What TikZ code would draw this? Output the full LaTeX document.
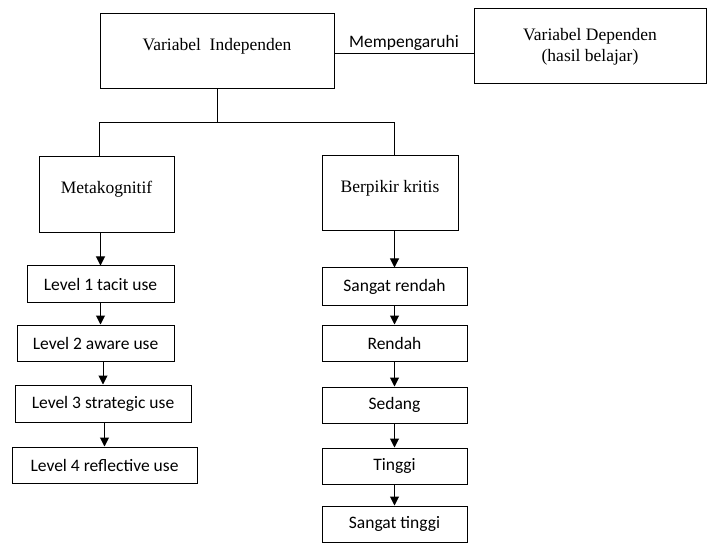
\documentclass[tikz,border=0pt]{standalone}
\usepackage{fontspec}
\setmainfont{Liberation Serif}
\newfontfamily\calibri{Carlito}
\usetikzlibrary{arrows.meta}
\begin{document}
\begin{tikzpicture}[x=1pt,y=-1pt,line width=1pt,
	kotak/.style={draw,inner sep=0pt,font=\fontsize{17.5}{21}\selectfont},
	kotakbesar/.style={kotak,text depth=15pt},
	kecil/.style={kotak,font=\calibri\fontsize{17.5}{21}\selectfont,minimum width=145pt,minimum height=36pt},
	panah/.style={-{Triangle[length=9pt,width=9pt]}}]
	\useasboundingbox (0,0) rectangle (709,545);
	% kotak atas
	\node[kotakbesar,minimum width=234pt,minimum height=75pt] (vi) at (217,51.5) {Variabel\ \ Independen};
	\node[kotak,align=center,minimum width=232pt,minimum height=75pt] (vd) at (590,46.5) {Variabel Dependen\\(hasil belajar)};
	\draw ([yshift=-2.5pt]vi.east) -- ([yshift=-2.5pt]vi.east -| vd.west) node[midway,above,font=\calibri\fontsize{17.5}{21}\selectfont] (pengaruh) {Mempengaruhi};
	% cabang
	\node[kotakbesar,minimum width=135pt,minimum height=76pt] (met) at (106.5,195) {Metakognitif};
	\node[kotakbesar,minimum width=136pt,minimum height=75pt] (bk) at (390,193.5) {Berpikir kritis};
	\coordinate (kiri) at (99,123);
	\coordinate (kanan) at (394,123);
	\draw (vi.south) -- (vi.south |- kiri);
	\draw (met.north -| kiri) -- (kiri) -- (kanan) -- (bk.north -| kanan);
	% level metakognitif
	\node[kecil,minimum width=147pt] (l1) at (100.5,284) {Level 1 tacit use};
	\node[kecil,minimum width=157pt] (l2) at (95.5,343) {Level 2 aware use};
	\node[kecil,minimum width=176pt,minimum height=37pt] (l3) at (103,403.5) {Level 3 strategic use};
	\node[kecil,minimum width=185pt] (l4) at (104.5,465) {Level 4 reflective use};
	% kategori berpikir kritis
	\node[kecil,minimum height=37pt] (sr) at (394.5,286.5) {Sangat rendah};
	\node[kecil] (rd) at (394.5,343) {Rendah};
	\node[kecil] (sd) at (394.5,405) {Sedang};
	\node[kecil] (tg) at (394.5,466) {Tinggi};
	\node[kecil] (st) at (394.5,524) {Sangat tinggi};
	\draw[panah] (l1.south) -- (l1.south |- l2.north);
	\foreach \a/\b in {met/l1,l2/l3,l3/l4,bk/sr,sr/rd,rd/sd,sd/tg,tg/st}
		\draw[panah] (\a.south -| \b.north) -- (\b.north);
\end{tikzpicture}
\end{document}
